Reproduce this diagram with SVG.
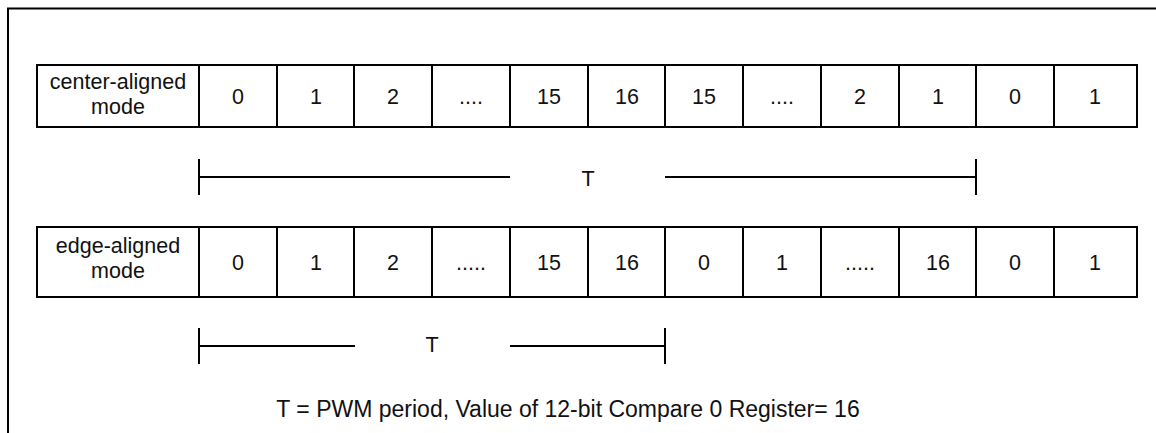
<svg xmlns="http://www.w3.org/2000/svg" width="1156" height="433" viewBox="0 0 1156 433">
<style>
.ln{stroke:#000;stroke-width:2;fill:none}
.c{fill:#fff;stroke:#000;stroke-width:2}
text{font-family:"Liberation Sans",Arial,sans-serif;font-size:21.5px;fill:#111;text-anchor:middle}
.big{font-size:23px}
</style>
<rect width="1156" height="433" fill="#fff"/>
<g id="frame"><path class="ln" d="M8,433 V8.5 H1156"/></g>
<g id="row-center">
<rect class="c" x="37" y="65" width="1100" height="62"/>
<path class="ln" d="M199,65V127M277,65V127M354,65V127M432,65V127M510,65V127M588,65V127M665,65V127M743,65V127M821,65V127M899,65V127M976,65V127M1054,65V127"/>
<text x="118" y="89">center-aligned</text><text x="118" y="114">mode</text>
<text x="238" y="104">0</text><text x="316" y="104">1</text><text x="393" y="104">2</text><text x="471" y="104">....</text><text x="549" y="104">15</text><text x="627" y="104">16</text><text x="704" y="104">15</text><text x="782" y="104">....</text><text x="860" y="104">2</text><text x="938" y="104">1</text><text x="1015" y="104">0</text><text x="1095" y="104">1</text>
</g>
<g id="row-edge">
<rect class="c" x="37" y="227" width="1100" height="70"/>
<path class="ln" d="M199,227V297M277,227V297M354,227V297M432,227V297M510,227V297M588,227V297M665,227V297M743,227V297M821,227V297M899,227V297M976,227V297M1054,227V297"/>
<text x="118" y="253">edge-aligned</text><text x="118" y="278">mode</text>
<text x="238" y="270">0</text><text x="316" y="270">1</text><text x="393" y="270">2</text><text x="471" y="270">.....</text><text x="549" y="270">15</text><text x="627" y="270">16</text><text x="704" y="270">0</text><text x="782" y="270">1</text><text x="860" y="270">.....</text><text x="938" y="270">16</text><text x="1015" y="270">0</text><text x="1095" y="270">1</text>
</g>
<g id="connectors">
<path class="ln" d="M199,159V195M199,177H510M665,177H976M976,159V195"/>
<path class="ln" d="M199,328V364M199,346H355M510,346H665M665,328V364"/>
</g>
<g id="labels">
<text x="588" y="186">T</text>
<text x="432" y="352">T</text>
<text class="big" x="568" y="417">T = PWM period, Value of 12-bit Compare 0 Register= 16</text>
</g>
</svg>
